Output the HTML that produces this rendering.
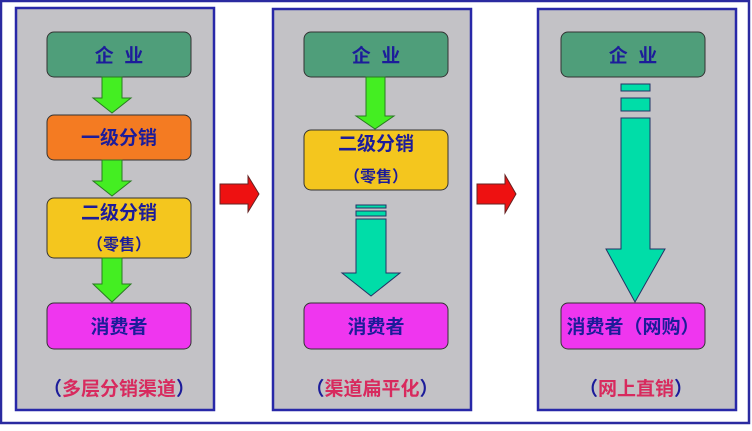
<!DOCTYPE html>
<html><head><meta charset="utf-8"><style>
body{margin:0;width:752px;height:426px;overflow:hidden;background:#fff}
.f{font-family:"Liberation Sans","Noto Sans CJK SC",sans-serif;font-weight:bold}
</style></head><body>
<svg width="752" height="426" xmlns="http://www.w3.org/2000/svg" class="f">
<rect x="1" y="1" width="748" height="422" fill="#fff" stroke="#2a2aa0" stroke-width="2.5"/>
<g fill="#c3c2c6" stroke="#2828a8" stroke-width="2.5">
<rect x="16" y="8" width="198" height="402"/>
<rect x="273" y="9" width="198" height="401"/>
<rect x="538" y="9" width="198" height="401"/>
</g>
<g stroke="#333" stroke-width="1">
<rect x="47" y="32" width="144" height="45" rx="7" fill="#4f9e7a"/>
<rect x="47" y="115" width="144" height="45" rx="7" fill="#f47b22"/>
<rect x="47" y="198" width="144" height="60" rx="7" fill="#f4c61e"/>
<rect x="47" y="303" width="144" height="46" rx="7" fill="#ef36ef"/>
<g fill="#44ee22" stroke="#2a7a22">
<path d="M102 77h20v21h9l-19 15-19-15h9z"/>
<path d="M102 160h20v21h9l-19 15-19-15h9z"/>
<path d="M102 258h20v26h9l-19 18-19-18h9z"/>
</g>
<rect x="304" y="32" width="144" height="45" rx="7" fill="#4f9e7a"/>
<rect x="304" y="130" width="144" height="60" rx="7" fill="#f4c61e"/>
<rect x="304" y="303" width="144" height="46" rx="7" fill="#ef36ef"/>
<path d="M366 77h19v39h9l-19 13-19-13h10z" fill="#44ee22" stroke="#2a7a22"/>
<g fill="#00dda8" stroke="#236">
<rect x="356" y="205" width="30" height="3"/>
<rect x="356" y="211" width="30" height="5"/>
<path d="M356 219h30v54h14l-29 23-29-23h14z"/>
</g>
<rect x="561" y="32" width="144" height="45" rx="7" fill="#4f9e7a"/>
<rect x="561" y="303" width="144" height="46" rx="7" fill="#ef36ef"/>
<g fill="#00dda8" stroke="#236">
<rect x="621" y="84" width="29" height="7"/>
<rect x="621" y="98" width="29" height="13"/>
<path d="M621 118h29v131h15l-30 53-29-53h15z"/>
</g>
<g fill="#ee1111" stroke="#622">
<path d="M220 184h28v-8l11 18-11 18v-8h-28z"/>
<path d="M477 184h28v-9l11 19-11 19v-9h-28z"/>
</g>
</g>
<g fill="#1c1c9a" font-size="19" text-anchor="middle">
<text x="119" y="62">企&#160;&#160;业</text>
<text x="119" y="144">一级分销</text>
<text x="119" y="219">二级分销</text>
<text x="119" y="250" font-size="16">（零售）</text>
<text x="119" y="333">消费者</text>
<text x="376" y="62">企&#160;&#160;业</text>
<text x="376" y="150">二级分销</text>
<text x="376" y="182" font-size="16">（零售）</text>
<text x="376" y="333">消费者</text>
<text x="633" y="62">企&#160;&#160;业</text>
<text x="633" y="333">消费者（网购）</text>
</g>
<g font-size="19" text-anchor="middle" fill="#d82a5e">
<text x="119" y="395"><tspan fill="#1c1c9a">（</tspan>多层分销渠道<tspan fill="#1c1c9a">）</tspan></text>
<text x="372" y="395"><tspan fill="#1c1c9a">（</tspan>渠道扁平化<tspan fill="#1c1c9a">）</tspan></text>
<text x="636" y="395"><tspan fill="#1c1c9a">（</tspan>网上直销<tspan fill="#1c1c9a">）</tspan></text>
</g>
</svg>
</body></html>
